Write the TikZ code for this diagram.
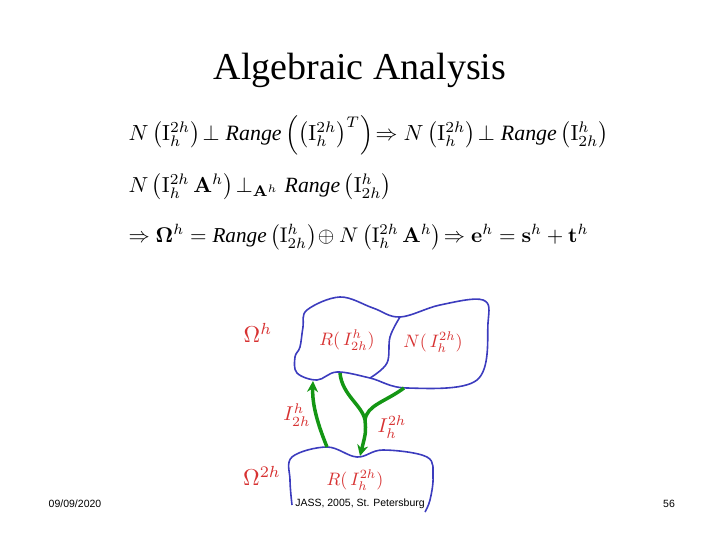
\documentclass[tikz,border=0pt]{standalone}
\usepackage{amsmath,bm}
\usepackage[no-math]{fontspec}
\setmainfont{Liberation Serif}
\usepackage{graphicx}
\usetikzlibrary{arrows.meta}
\newfontfamily\footfont{Liberation Sans}
\definecolor{lblred}{RGB}{215,50,50}
\definecolor{blobblue}{RGB}{60,60,190}
\definecolor{arrgreen}{RGB}{20,150,20}
\newcommand{\Iop}{\mathrm{I}}
\newcommand{\rng}{\textit{Range}}
\newcommand{\lb}[2][2.1]{\scalebox{#1}{$#2$}}
\begin{document}
\begin{tikzpicture}[x=1pt,y=-1pt,
  blob/.style={draw=blobblue,line width=1.6pt},
  garr/.style={draw=arrgreen,line width=3.5pt,-{Stealth[length=11pt,width=11pt]}},
  gline/.style={draw=arrgreen,line width=3.5pt},
  lbl/.style={text=lblred,inner sep=1pt},
  foot/.style={font=\footfont\fontsize{10.5}{12}\selectfont}]
\useasboundingbox (0,0) rectangle (720,540);
\node (title) at (360,70) {\fontsize{38}{44}\selectfont Algebraic Analysis};
\node[anchor=west] (eq1) at (125,135) {\resizebox{480pt}{!}{$N\left(\Iop_h^{2h}\right)\!\perp \rng\left(\left(\Iop_h^{2h}\right)^{T}\right)\!\Rightarrow N\left(\Iop_h^{2h}\right)\!\perp \rng\left(\Iop_{2h}^{h}\right)$}};
\node[anchor=west] (eq2) at (125,187) {\resizebox{263pt}{!}{$N\left(\Iop_h^{2h}\,\mathbf{A}^h\right)\!\perp_{\mathbf{A}^h} \rng\left(\Iop_{2h}^{h}\right)$}};
\node[anchor=west] (eq3) at (125,237) {\resizebox{460pt}{!}{$\Rightarrow \bm{\Omega}^h = \rng\left(\Iop_{2h}^{h}\right)\!\oplus N\left(\Iop_h^{2h}\,\mathbf{A}^h\right)\!\Rightarrow \mathbf{e}^h=\mathbf{s}^h+\mathbf{t}^h$}};
% blobs
\draw[blob] plot[smooth cycle,tension=0.6] coordinates{(303,327)(307,310)(340,297)(373,308)(400,317)(440,305)(483,300)(488,323)(477,380)(407,388)(370,378)(337,372)(317,380)(297,373)(295,357)(300,347)};
\draw[blob] plot[smooth,tension=0.6] coordinates{(400,317)(390,337)(387,363)(370,378)};
\draw[blob] plot[smooth,tension=0.6] coordinates{(292,505)(290,480)(292,457)(327,447)(357,457)(383,450)(427,457)(433,477)(430,500)(425,512)};
% arrows
\coordinate (a1s) at (327,447);
\coordinate (a1e) at (313,381);
\draw[garr] (a1s) .. controls (318,425) and (312,405) .. (a1e);
\coordinate (b1s) at (340,373);
\coordinate (bj) at (365,420);
\coordinate (b2s) at (404,388);
\coordinate (b1e) at (360,456);
\draw[gline] (b1s) .. controls (342,395) and (362,405) .. (bj);
\draw[gline] (b2s) .. controls (385,402) and (367,405) .. (bj);
\draw[garr] (bj) .. controls (366,432) .. (b1e);
% labels
\node[lbl] (om1) at (258,333) {\lb[2.3]{\Omega^h}};
\node[lbl] (r1) at (347,340) {\lb[1.8]{R(\,I^h_{2h})}};
\node[lbl] (n1) at (433,342) {\lb[1.8]{N(\,I^{2h}_h)}};
\node[lbl] (l1) at (297,415) {\lb[2.0]{I^h_{2h}}};
\node[lbl] (l2) at (392,427) {\lb[2.0]{I^{2h}_h}};
\node[lbl] (om2) at (262,476) {\lb[2.3]{\Omega^{2h}}};
\node[lbl] (r2) at (355,480) {\lb[1.8]{R(\,I^{2h}_h)}};
% footer
\node[foot] (f1) at (75,504) {09/09/2020};
\node[foot] (f2) at (360,504) {JASS, 2005, St. Petersburg};
\node[foot] (f3) at (669,504) {56};
\end{tikzpicture}
\end{document}
